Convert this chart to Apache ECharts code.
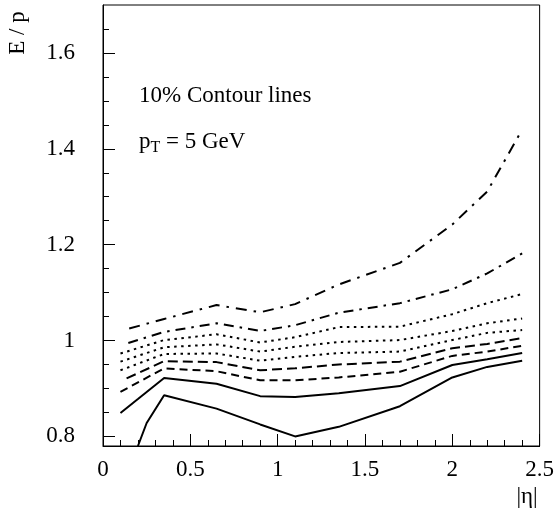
<!DOCTYPE html>
<html>
<head>
<meta charset="utf-8">
<script src="https://cdn.jsdelivr.net/npm/echarts@6/dist/echarts.min.js"></script>
<style>
html,body{margin:0;padding:0;background:#fff;}
#c{width:557px;height:514px;}
</style>
</head>
<body>
<div id="c"></div>
<script>
// shared |eta| positions of the contour points
const eta = [0.35, 0.65, 0.9, 1.1, 1.35, 1.7, 2.0, 2.2, 2.4];

// contour lines, bottom to top: leading points + values at eta
const solidLowHeadX = [0.2, 0.25];
const solidLowHeadY = [0.78, 0.828];
const solidLow = [0.886, 0.858, 0.825, 0.800, 0.820, 0.863, 0.923, 0.945, 0.958];

const solidHighHeadX = [0.1, 0.2];
const solidHighHeadY = [0.849, 0.878];
const solidHigh = [0.922, 0.910, 0.884, 0.882, 0.890, 0.905, 0.949, 0.961, 0.974];

const dashLowHeadX = [0.1];
const dashLowHeadY = [0.893];
const dashLow = [0.942, 0.936, 0.917, 0.917, 0.923, 0.935, 0.968, 0.977, 0.989];

const dashHighHeadX = [0.135];
const dashHighHeadY = [0.921];
const dashHigh = [0.957, 0.955, 0.938, 0.942, 0.950, 0.956, 0.984, 0.993, 1.005];

const dotLowHeadX = [0.1];
const dotLowHeadY = [0.938];
const dotLow = [0.972, 0.973, 0.958, 0.966, 0.974, 0.977, 1.001, 1.016, 1.022];

const dotMidHeadX = [0.1];
const dotMidHeadY = [0.956];
const dotMid = [0.986, 0.992, 0.977, 0.987, 0.997, 1.001, 1.020, 1.036, 1.046];

const dotHighHeadX = [0.1];
const dotHighHeadY = [0.973];
const dotHigh = [1.001, 1.013, 0.996, 1.007, 1.028, 1.029, 1.055, 1.078, 1.097];

const dashDotLowHeadX = [0.145];
const dashDotLowHeadY = [0.995];
const dashDotLow = [1.018, 1.036, 1.020, 1.032, 1.058, 1.078, 1.107, 1.140, 1.182];

const dashDotHighHeadX = [0.15];
const dashDotHighHeadY = [1.025];
const dashDotHigh = [1.045, 1.074, 1.059, 1.076, 1.117, 1.162, 1.242, 1.311, 1.440];

// ticks
const xTickLabels = [0, 0.5, 1, 1.5, 2, 2.5];
const yTickLabels = [0.8, 1, 1.2, 1.4, 1.6];
const yMinorTicks = [0.8, 0.85, 0.9, 0.95, 1.0, 1.05, 1.1, 1.15, 1.2, 1.25, 1.3, 1.35, 1.4, 1.45, 1.5, 1.55, 1.6, 1.65];

function pts(hx, hy, ys) {
  const out = [];
  for (let i = 0; i < hx.length; i++) out.push([hx[i], hy[i]]);
  for (let i = 0; i < eta.length; i++) out.push([eta[i], ys[i]]);
  return out;
}

const FONT = 'Liberation Serif';
const FS = 23;

function line(data, type) {
  return {
    type: 'line', data: data, symbol: 'none', clip: true, silent: true,
    lineStyle: { color: '#000', width: 2, type: type, cap: 'butt' }
  };
}

const chart = echarts.init(document.getElementById('c'));
chart.setOption({
  animation: false,
  backgroundColor: '#fff',
  grid: { left: 103, right: 15, top: 5, bottom: 68, show: true, borderColor: '#000', borderWidth: 1 },
  xAxis: {
    type: 'value', min: xTickLabels[0], max: xTickLabels[xTickLabels.length - 1], interval: 0.5,
    axisLine: { show: true, lineStyle: { color: '#000', width: 1 } },
    axisTick: { show: true, inside: true, length: 12, lineStyle: { color: '#000', width: 1 } },
    minorTick: { show: true, splitNumber: 5, length: 6, lineStyle: { color: '#000', width: 1 } },
    splitLine: { show: false },
    axisLabel: { color: '#000', fontFamily: FONT, fontSize: FS, margin: 12, formatter: v => String(v) }
  },
  yAxis: [{
    type: 'value', min: 0.78, max: 1.7, position: 'left',
    axisLine: { show: true, lineStyle: { color: '#000', width: 1 } },
    axisTick: { show: true, inside: true, length: 12, customValues: yTickLabels, lineStyle: { color: '#000', width: 1 } },
    splitLine: { show: false },
    axisLabel: { color: '#000', fontFamily: FONT, fontSize: FS, margin: 28, customValues: yTickLabels, formatter: v => String(v) }
  }, {
    type: 'value', min: 0.78, max: 1.7, position: 'left',
    axisLine: { show: false },
    axisTick: { show: true, inside: true, length: 6, customValues: yMinorTicks, lineStyle: { color: '#000', width: 1 } },
    splitLine: { show: false },
    axisLabel: { show: false }
  }],
  series: [
    line(pts(solidLowHeadX, solidLowHeadY, solidLow), 'solid'),
    line(pts(solidHighHeadX, solidHighHeadY, solidHigh), 'solid'),
    line(pts(dashLowHeadX, dashLowHeadY, dashLow), [8, 5]),
    line(pts(dashHighHeadX, dashHighHeadY, dashHigh), [10, 5]),
    line(pts(dotLowHeadX, dotLowHeadY, dotLow), [2.5, 4.5]),
    line(pts(dotMidHeadX, dotMidHeadY, dotMid), [2.5, 4.5]),
    line(pts(dotHighHeadX, dotHighHeadY, dotHigh), [2.5, 4.5]),
    line(pts(dashDotLowHeadX, dashDotLowHeadY, dashDotLow), [10, 6, 2.5, 6]),
    line(pts(dashDotHighHeadX, dashDotHighHeadY, dashDotHigh), [11, 7, 2.5, 7])
  ],
  graphic: [
    { type: 'text', x: 18, y: 33, rotation: Math.PI / 2,
      style: { text: 'E / p', font: FS + 'px "' + FONT + '"', fill: '#000', align: 'center', verticalAlign: 'middle' } },
    { type: 'text', x: 527, y: 497,
      style: { text: '|η|', font: FS + 'px "' + FONT + '"', fill: '#000', align: 'center', verticalAlign: 'middle' } },
    { type: 'text', x: 139, y: 96,
      style: { text: '10% Contour lines', font: FS + 'px "' + FONT + '"', fill: '#000', align: 'left', verticalAlign: 'middle' } },
    { type: 'text', x: 139, y: 142,
      style: {
        text: '{a|p}{b|T}{a| = 5 GeV}', fill: '#000', align: 'left', verticalAlign: 'middle',
        rich: {
          a: { fontFamily: FONT, fontSize: FS, fill: '#000' },
          b: { fontFamily: FONT, fontSize: 16, fill: '#000', padding: [12, 0, 0, 0] }
        }
      } }
  ]
});
</script>
</body>
</html>
